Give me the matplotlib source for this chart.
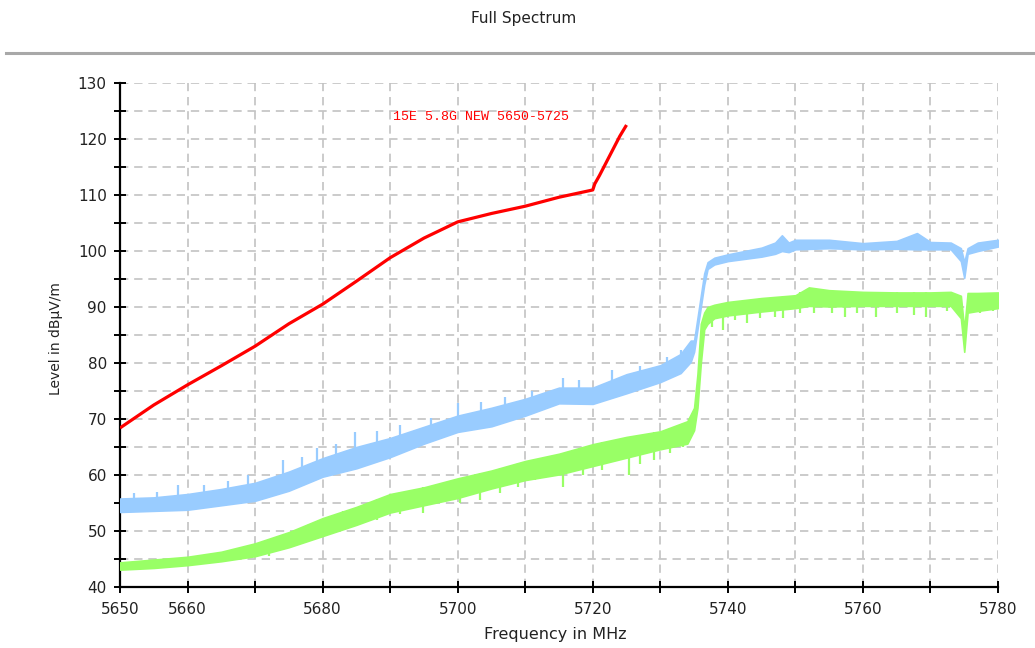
import numpy as np
import matplotlib
matplotlib.use('Agg')
import matplotlib.pyplot as plt
from matplotlib.lines import Line2D

# ---------------- data ----------------
red_freq = [5650, 5655, 5660, 5665, 5670, 5675, 5680, 5685, 5690, 5695,
            5700, 5705, 5710, 5715, 5720, 5720.3, 5721, 5722.5, 5724, 5725]
red_level = [68.4, 72.5, 76.1, 79.5, 83.0, 87.0, 90.5, 94.6, 98.8, 102.3,
             105.2, 106.7, 108.0, 109.6, 110.9, 112.0, 113.5, 117.0, 120.5, 122.5]

blue_freq = [5650, 5655, 5660, 5665, 5670, 5675, 5680, 5685, 5690, 5695,
             5700, 5705, 5710, 5715, 5720, 5725, 5730, 5733, 5734.5, 5735,
             5735.5, 5736, 5736.5, 5737, 5738, 5740, 5745, 5747, 5748, 5749,
             5750, 5755, 5760, 5765, 5768, 5770, 5773, 5774.5, 5775, 5775.5,
             5777, 5780]
blue_low = [53.4, 53.6, 53.8, 54.6, 55.4, 57.2, 59.7, 61.2, 63.2, 65.6,
            67.7, 68.7, 70.6, 72.8, 72.7, 74.6, 76.6, 78.2, 80.2, 82.0,
            86.0, 90.0, 94.0, 96.8, 97.6, 98.2, 99.0, 99.5, 100.0, 99.8,
            100.3, 100.5, 100.3, 100.4, 100.3, 100.3, 100.3, 98.2, 95.2, 99.5,
            100.0, 100.8]
blue_high = [55.8, 56.0, 56.6, 57.5, 58.6, 60.6, 63.0, 65.0, 66.6, 68.6,
             70.6, 72.0, 73.6, 75.6, 75.6, 78.0, 79.6, 81.6, 84.0, 84.0,
             88.0, 92.0, 96.0, 98.0, 98.8, 99.4, 100.6, 101.5, 102.8, 101.5,
             102.0, 102.0, 101.4, 101.8, 103.2, 101.6, 101.5, 100.5, 98.0, 100.5,
             101.5, 102.0]

green_freq = [5650, 5655, 5660, 5665, 5670, 5675, 5680, 5685, 5690, 5695,
              5700, 5705, 5710, 5715, 5720, 5725, 5730, 5734, 5735, 5735.5,
              5736, 5736.5, 5737, 5738, 5740, 5745, 5750, 5752, 5755, 5760,
              5765, 5770, 5773, 5774.5, 5775, 5775.5, 5777, 5780]
green_low = [43.1, 43.4, 43.9, 44.6, 45.5, 47.1, 49.1, 51.1, 53.3, 54.6,
             55.9, 57.6, 59.1, 60.1, 61.6, 63.1, 64.6, 65.6, 68.0, 72.0,
             80.0, 86.0, 87.0, 88.0, 88.5, 89.2, 89.8, 90.2, 90.1, 90.2,
             90.2, 90.2, 90.2, 88.0, 82.0, 89.0, 89.3, 89.8]
green_high = [44.4, 44.9, 45.4, 46.3, 47.8, 49.8, 52.3, 54.3, 56.6, 57.8,
              59.4, 60.8, 62.5, 63.8, 65.5, 66.8, 67.8, 69.6, 72.0, 78.0,
              87.0, 89.0, 90.0, 90.4, 90.9, 91.6, 92.1, 93.5, 93.0, 92.7,
              92.6, 92.6, 92.7, 92.0, 86.0, 92.5, 92.5, 92.6]

blue_spike_freq = [5652.0, 5655.5, 5658.6, 5662.5, 5666.0, 5669.0, 5674.2, 5677.0,
                   5679.2, 5682.0, 5684.8, 5688.0, 5691.5, 5696.0, 5700.0, 5703.5,
                   5707.0, 5711.0, 5715.6, 5718.0, 5722.8, 5727.0, 5731.0, 5733.0]
blue_spike_level = [56.8, 57.0, 58.2, 58.3, 59.0, 60.0, 62.7, 63.2,
                    64.8, 65.5, 67.7, 67.8, 69.0, 70.2, 72.8, 73.0,
                    74.0, 75.0, 77.3, 77.0, 78.7, 79.5, 81.0, 82.3]

green_spike_freq = [5672.0, 5678.0, 5683.0, 5688.0, 5691.5, 5694.9, 5700.3, 5703.3,
                    5706.3, 5709.0, 5711.4, 5715.6, 5718.5, 5721.4, 5725.3, 5727.0,
                    5729.0, 5731.5, 5733.4,
                    5737.6, 5739.3, 5741.1, 5742.8, 5744.8, 5747.0, 5748.2, 5750.7,
                    5752.7, 5755.4, 5757.3, 5759.1, 5762.0, 5765.0, 5767.5, 5769.4,
                    5772.4, 5777.3, 5779.3]
green_spike_level = [45.5, 48.2, 50.3, 52.0, 53.0, 53.2, 55.0, 55.5,
                     56.8, 57.8, 59.1, 57.9, 60.0, 60.9, 60.0, 62.0,
                     62.7, 64.0, 65.0,
                     86.5, 85.9, 87.7, 87.1, 88.0, 88.3, 88.0, 88.9,
                     88.9, 88.9, 88.3, 88.9, 88.3, 88.9, 88.6, 88.3,
                     89.2, 88.9, 89.2]

x_ticks = [5650, 5660, 5670, 5680, 5690, 5700, 5710, 5720, 5730, 5740, 5750, 5760, 5770, 5780]
x_tick_labels = ['5650', '5660', '', '5680', '', '5700', '', '5720', '', '5740', '', '5760', '', '5780']
y_ticks = [40, 45, 50, 55, 60, 65, 70, 75, 80, 85, 90, 95, 100, 105, 110, 115, 120, 125, 130]
y_tick_labels = ['40', '', '50', '', '60', '', '70', '', '80', '', '90', '', '100', '', '110', '', '120', '', '130']

annotation = '15E 5.8G NEW 5650-5725'

# ---------------- figure ----------------
W, H = 1035, 648
fig = plt.figure(figsize=(W / 100, H / 100), dpi=100)
fig.patch.set_facecolor('white')

ax = fig.add_axes([120 / W, 1 - 587 / H, (998 - 120) / W, (587 - 83) / H])
ax.set_xlim(5650, 5780)
ax.set_ylim(40, 130)

BLUE = '#99ccff'
GREEN = '#99ff66'
RED = '#ff0000'

ax.fill_between(blue_freq, blue_low, blue_high, color=BLUE, lw=1.2, edgecolor=BLUE, zorder=3)
bbase = np.interp(blue_spike_freq, blue_freq, blue_low)
ax.vlines(blue_spike_freq, bbase, blue_spike_level, color=BLUE, lw=1.6, zorder=3)

ax.fill_between(green_freq, green_low, green_high, color=GREEN, lw=1.2, edgecolor=GREEN, zorder=4)
gbase = np.interp(green_spike_freq, green_freq, green_high)
ax.vlines(green_spike_freq, green_spike_level, gbase, color=GREEN, lw=1.6, zorder=4)

ax.plot(red_freq, red_level, color=RED, lw=2.3, zorder=5, solid_capstyle='butt')

ax.text(5690.4, 123.9, annotation, color=RED, fontsize=9.5,
        family=['Liberation Mono', 'DejaVu Sans Mono'], ha='left', va='center', zorder=6)

# axes styling
ax.set_xticks(x_ticks)
ax.set_xticklabels(x_tick_labels)
ax.set_yticks(y_ticks)
ax.set_yticklabels(y_tick_labels)
ax.tick_params(axis='both', direction='inout', length=9, width=1.4, color='black',
               labelsize=11, labelcolor='#222222')
ax.tick_params(axis='x', pad=6)
ax.tick_params(axis='y', pad=5)
for s in ['top', 'right']:
    ax.spines[s].set_visible(False)
for s in ['left', 'bottom']:
    ax.spines[s].set_linewidth(1.6)
    ax.spines[s].set_color('black')
ax.grid(True, color='#c2c2c2', linestyle=(0, (5, 3.5)), lw=1.2, zorder=0)
ax.set_axisbelow(True)

# texts
fig.text(524 / W, 1 - 18 / H, 'Full Spectrum', ha='center', va='center', fontsize=11, color='#222222')
fig.text(555 / W, 1 - 635 / H, 'Frequency in MHz', ha='center', va='center', fontsize=11.5, color='#222222')
fig.text(56 / W, 1 - 339 / H, 'Level in dB\u00b5V/m', ha='center', va='center', rotation=90,
         fontsize=10, color='#222222')

# separator line under the title
fig.add_artist(Line2D([6 / W, 1.0], [1 - 53 / H, 1 - 53 / H], color='#a8a8a8', lw=2.2,
                      transform=fig.transFigure))

fig.savefig('out.png', dpi=100)
